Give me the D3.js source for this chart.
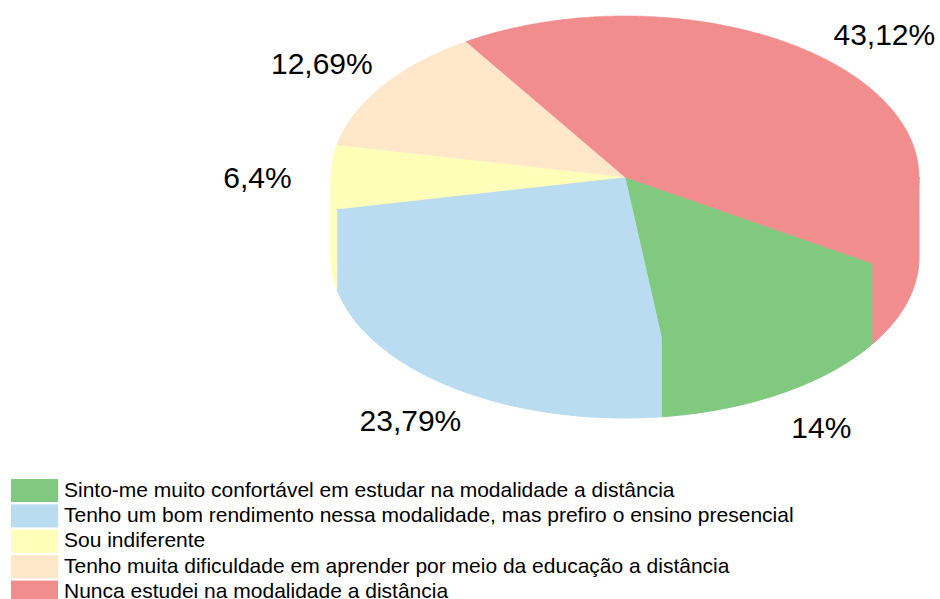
<!DOCTYPE html>
<html>
<head>
<meta charset="utf-8">
<script src="https://cdn.jsdelivr.net/npm/d3@7"></script>
<style>
  html, body { margin: 0; padding: 0; background: #fff; }
  svg { display: block; }
  text { font-family: "Liberation Sans", Arial, sans-serif; fill: #000; }
</style>
</head>
<body>
<svg id="chart" width="940" height="599"></svg>
<script>
// ---- data ----
const categories = [
  "Sinto-me muito confortável em estudar na modalidade a distância",
  "Tenho um bom rendimento nessa modalidade, mas prefiro o ensino presencial",
  "Sou indiferente",
  "Tenho muita dificuldade em aprender por meio da educação a distância",
  "Nunca estudei na modalidade a distância"
];
const values = [14, 23.79, 6.4, 12.69, 43.12];
const valueLabels = ["14%", "23,79%", "6,4%", "12,69%", "43,12%"];
const colors = ["#80C97F", "#BADCF1", "#FFFFB9", "#FFE7C9", "#F18D8D"];

// ---- layout ----
const svg = d3.select("#chart");
const cx = 625, cy = 177, rx = 294, ry = 161, depth = 80;
const start = 122.5 * Math.PI / 180;

const pie = d3.pie().sort(null).value(d => d.v)
  .startAngle(start).endAngle(start + 2 * Math.PI);
const data = values.map((v, i) => ({ v, i }));
const arcs = pie(data);

const px = (a, k = 1) => cx + rx * k * Math.sin(a);
const py = (a, k = 1) => cy - ry * k * Math.cos(a);

function arcPts(a0, a1, dy) {
  const n = Math.max(2, Math.ceil((a1 - a0) / 0.01));
  const pts = [];
  for (let j = 0; j <= n; j++) {
    const a = a0 + (a1 - a0) * j / n;
    pts.push([px(a), py(a) + dy]);
  }
  return pts;
}
const line = d3.line();

// sides (front half: angles in [PI/2, 3PI/2] mod 2PI)
const sideG = svg.append("g");
arcs.forEach(d => {
  for (let k = -1; k <= 2; k++) {
    const lo = Math.PI / 2 + k * 2 * Math.PI, hi = 3 * Math.PI / 2 + k * 2 * Math.PI;
    const s0 = Math.max(d.startAngle, lo), s1 = Math.min(d.endAngle, hi);
    if (s1 > s0) {
      const top = arcPts(s0, s1, 0);
      const bot = arcPts(s0, s1, depth).reverse();
      sideG.append("path")
        .attr("d", line(top.concat(bot)) + "Z")
        .attr("fill", colors[d.data.i])
        .attr("stroke", colors[d.data.i])
        .attr("stroke-width", 1);
    }
  }
});

// top surface
const topG = svg.append("g");
arcs.forEach(d => {
  const pts = [[cx, cy]].concat(arcPts(d.startAngle, d.endAngle, 0));
  topG.append("path")
    .attr("d", line(pts) + "Z")
    .attr("fill", colors[d.data.i])
    .attr("stroke", colors[d.data.i])
    .attr("stroke-width", 0.6);
});

// value labels
const labG = svg.append("g");
arcs.forEach(d => {
  const m = (d.startAngle + d.endAngle) / 2;
  const front = -Math.cos(m) > 0.1;
  labG.append("text")
    .attr("x", px(m, 1.25))
    .attr("y", py(m, 1.25) + (front ? depth : 0))
    .attr("dy", "0.36em")
    .attr("text-anchor", "middle")
    .style("font-size", "30px")
    .text(valueLabels[d.data.i]);
});

// legend
const legY = d3.scaleBand().domain(d3.range(categories.length)).range([479, 606]).paddingInner(0);
const leg = svg.append("g");
categories.forEach((c, i) => {
  const y = legY(i);
  leg.append("rect").attr("x", 11).attr("y", y).attr("width", 47).attr("height", 23)
    .attr("fill", colors[i]);
  leg.append("text").attr("x", 64).attr("y", y + 17.5)
    .style("font-size", "21px").text(c);
});
</script>
</body>
</html>
